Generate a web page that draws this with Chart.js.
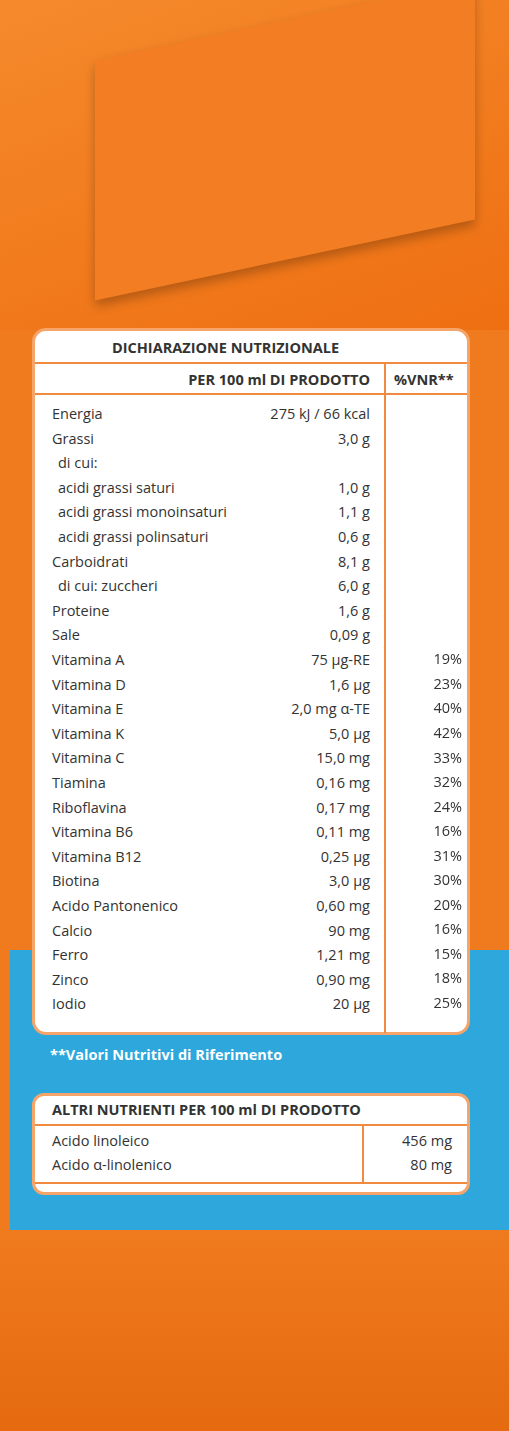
<!DOCTYPE html>
<html><head><meta charset="utf-8">
<script src="https://cdn.jsdelivr.net/npm/chart.js@4"></script>
<style>
body{margin:0;width:509px;height:1431px;overflow:hidden;font-family:"Open Sans",sans-serif;background:#f07a1e;position:relative}
.top{position:absolute;left:0;top:0;width:509px;height:330px;background:linear-gradient(160deg,#f58a2c,#ee6f12)}
.flap{position:absolute;left:95px;top:20px;width:380px;height:240px;background:#f27d22;transform:skewY(-12deg);box-shadow:0 6px 10px rgba(0,0,0,.25)}
.cap{position:absolute;left:270px;top:20px;width:200px;height:70px;background:#f4f4f4;border-radius:20px}
.blue{position:absolute;left:10px;top:950px;width:499px;height:280px;background:#2da7dc}
.bot{position:absolute;left:0;top:1230px;width:509px;height:201px;background:linear-gradient(#f07a1e,#e56a10)}
.panel{position:absolute;left:32px;top:328px;width:438px;height:707px;background:#fff;border-radius:14px;border:3px solid #f5a46a;box-sizing:border-box}
.t{position:absolute;font-size:14.5px;color:#333;white-space:nowrap}
.b{font-weight:bold}
.hl{position:absolute;height:2px;background:#f08a40}
.vl{position:absolute;width:2px;background:#f08a40}
.box2{position:absolute;left:32px;top:1093px;width:438px;height:102px;background:#fff;border-radius:12px;border:3px solid #f5a46a;box-sizing:border-box}
</style></head><body>
<div class="top"></div><div class="cap"></div><div class="flap"></div>
<div class="blue"></div><div class="bot"></div>
<div class="panel"></div>
<div class="box2"></div>
<canvas id="c" style="position:absolute;left:386px;top:648px;width:76px;height:368px"></canvas>
<div id="txt"></div>
<script>
const names=["Energia","Grassi"," di cui:"," acidi grassi saturi"," acidi grassi monoinsaturi"," acidi grassi polinsaturi","Carboidrati"," di cui: zuccheri","Proteine","Sale","Vitamina A","Vitamina D","Vitamina E","Vitamina K","Vitamina C","Tiamina","Riboflavina","Vitamina B6","Vitamina B12","Biotina","Acido Pantonenico","Calcio","Ferro","Zinco","Iodio"];
const amounts=["275 kJ / 66 kcal","3,0 g","","1,0 g","1,1 g","0,6 g","8,1 g","6,0 g","1,6 g","0,09 g","75 µg-RE","1,6 µg","2,0 mg α-TE","5,0 µg","15,0 mg","0,16 mg","0,17 mg","0,11 mg","0,25 µg","3,0 µg","0,60 mg","90 mg","1,21 mg","0,90 mg","20 µg"];
const vnrLabels=["Vitamina A","Vitamina D","Vitamina E","Vitamina K","Vitamina C","Tiamina","Riboflavina","Vitamina B6","Vitamina B12","Biotina","Acido Pantonenico","Calcio","Ferro","Zinco","Iodio"];
const vnrValues=[19,23,40,42,33,32,24,16,31,30,20,16,15,18,25];
const otherNames=["Acido linoleico","Acido α-linolenico"];
const otherValues=["456 mg","80 mg"];

let h='';
const add=(s,x,y,cls='',right=false)=>{h+=`<div class="t ${cls}" style="${right?'right:'+(509-x):'left:'+x}px;top:${y}px">${s}</div>`};
add("DICHIARAZIONE NUTRIZIONALE",112,338,'b');
add("PER 100 ml DI PRODOTTO",370,370,'b',true);
add("%VNR**",394,370,'b');
h+='<div class="hl" style="left:35px;width:432px;top:362px"></div>';
h+='<div class="hl" style="left:35px;width:432px;top:393px"></div>';
h+='<div class="vl" style="left:384px;top:363px;height:670px"></div>';
names.forEach((n,i)=>{const y=404+i*24.6;add(n.trim(),n.startsWith(' ')?58:52,y);add(amounts[i],370,y,'',true);});
add("**Valori Nutritivi di Riferimento",50,1045,'b');
h+='<div class="t b" style="left:52px;top:1100px;color:#333">ALTRI NUTRIENTI PER 100 ml DI PRODOTTO</div>';
h+='<div class="hl" style="left:35px;width:432px;top:1124px"></div>';
h+='<div class="hl" style="left:35px;width:432px;top:1182px"></div>';
h+='<div class="vl" style="left:362px;top:1125px;height:57px"></div>';
otherNames.forEach((n,i)=>{add(n,52,1131+i*24);add(otherValues[i],452,1131+i*24,'',true);});
document.getElementById('txt').innerHTML=h;
document.querySelector('.t.b').style.color='#333';
[...document.querySelectorAll('.t')].filter(e=>e.textContent.startsWith('**')).forEach(e=>e.style.color='#fff');

const lbl={id:'lbl',afterDatasetsDraw(ch){const c=ch.ctx;const m=ch.getDatasetMeta(0);c.save();c.font='14.5px "Open Sans"';c.fillStyle='#333';c.textAlign='right';c.textBaseline='middle';m.data.forEach((b,i)=>c.fillText(vnrValues[i]+'%',ch.chartArea.right,b.y));c.restore();}};
new Chart(document.getElementById('c'),{type:'bar',data:{labels:vnrLabels,datasets:[{data:vnrValues,backgroundColor:'rgba(0,0,0,0)'}]},
options:{indexAxis:'y',responsive:false,animation:false,layout:{padding:0},plugins:{legend:{display:false},tooltip:{enabled:false}},
scales:{x:{display:false,min:0,max:100},y:{display:false}}},plugins:[lbl]});
</script></body></html>
